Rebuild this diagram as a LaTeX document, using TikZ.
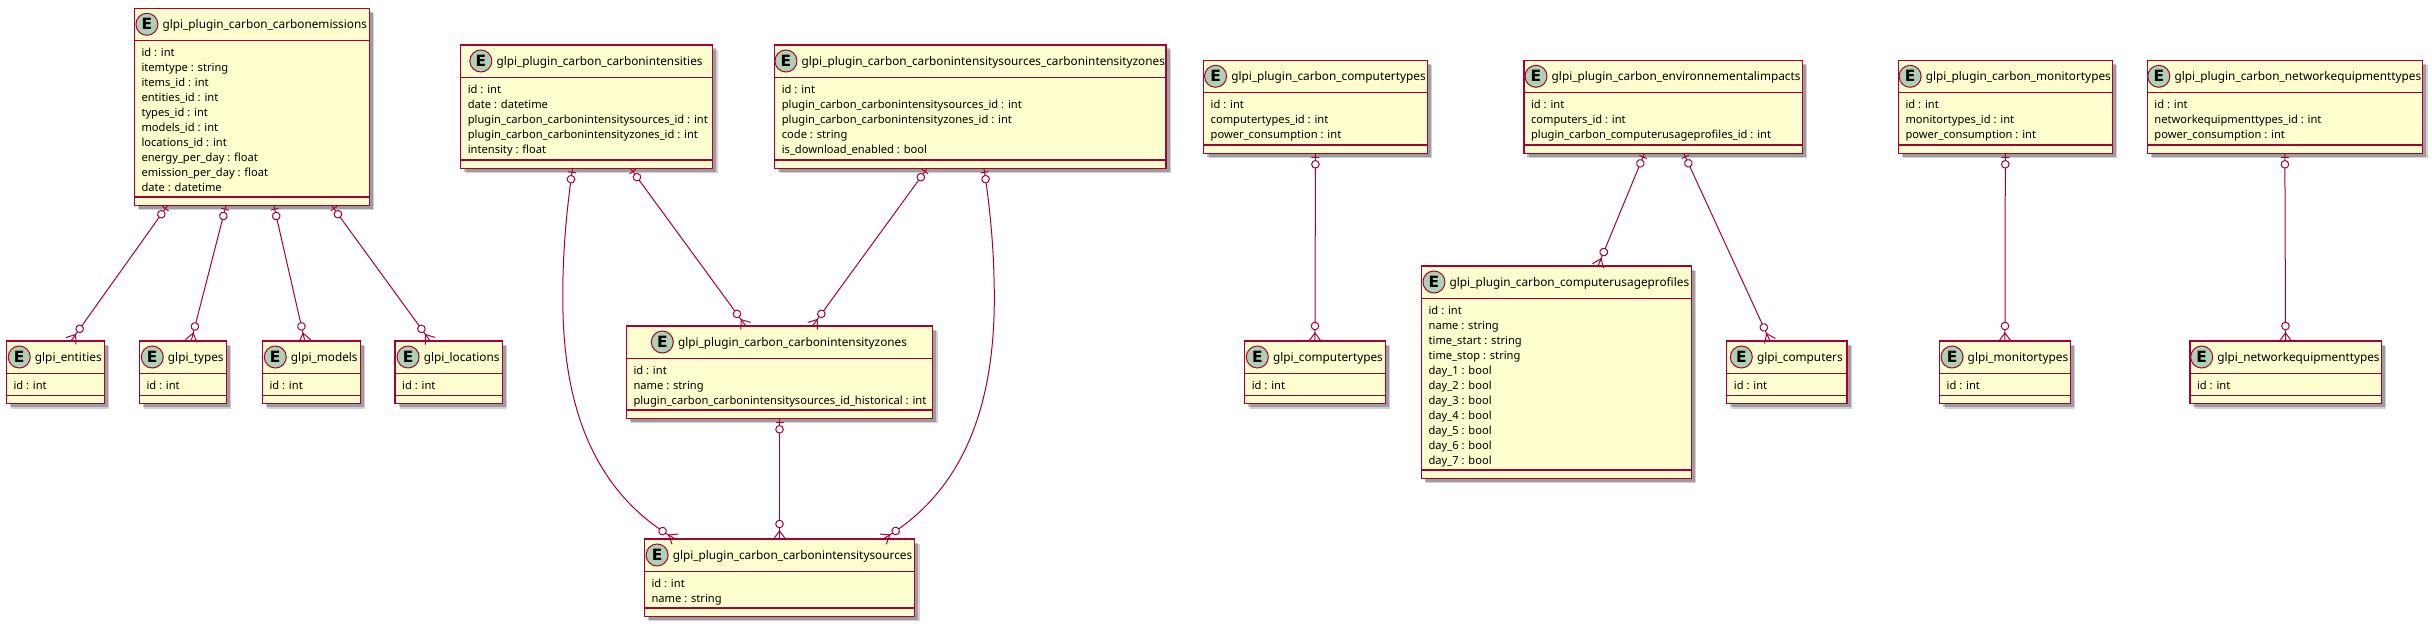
\documentclass[tikz,border=0pt]{standalone}
\usepackage{fontspec}
\setmainfont{Noto Sans}
\newfontfamily\markfont{DejaVu Sans}
\usetikzlibrary{positioning,shadows,decorations.markings}
\definecolor{boxred}{HTML}{A80036}
\definecolor{boxfill}{HTML}{FEFECE}
\definecolor{markfill}{HTML}{ADD1B2}
\tikzset{
  entitybox/.style={draw=boxred, fill=boxfill, line width=1.4pt, inner sep=0pt, outer sep=0pt,
    drop shadow={shadow xshift=5pt, shadow yshift=-5pt, fill=black, opacity=.18},
    drop shadow={shadow xshift=3.5pt, shadow yshift=-3.5pt, fill=black, opacity=.25}},
  entityline/.style={draw=boxred, line width=1.4pt},
  entitytitle/.style={inner sep=0pt, text height=11pt, text depth=2pt, font=\fontsize{11.8}{15}\selectfont},
  entitymark/.style={circle, draw=boxred, fill=markfill, line width=1pt, minimum size=22pt, inner sep=0pt,
    font=\fontsize{15.5}{17}\selectfont\markfont\bfseries},
  entityrows/.style={anchor=north west, inner sep=0pt, align=left, font=\fontsize{11.15}{15}\selectfont},
  relmark/.style={draw=boxred, line width=1pt},
  rel/.style={draw=boxred, line width=1pt, postaction={decorate}, decoration={markings,
    mark=at position 4pt with {\draw[relmark] (0,-4) -- (0,4);},
    mark=at position 11pt with {\draw[relmark, fill=white] (0,0) circle[radius=3.8];},
    mark=at position -15pt with {\draw[relmark, fill=white] (0,0) circle[radius=3.8];},
    mark=at position -8pt with {\draw[relmark] (8,-6) -- (0,0) -- (8,6);}}},
}
% name, left, top, right, bottom, title, rows
\newcommand{\entity}[7]{
  \pgfmathsetmacro{\entw}{#4-#2}
  \pgfmathsetmacro{\enth}{#5-#3}
  \node[entitybox, minimum width=\entw pt, minimum height=\enth pt] (#1) at ({(#2+#4)/2},{(#3+#5)/2}) {};
  \node[entitytitle] (#1title) at ({(#2+#4)/2+13},{#3+16}) {#6};
  \node[entitymark, left=4pt of #1title] (#1mark) {E};
  \draw[entityline] ([yshift=-32.3pt]#1.north west) -- ([yshift=-32.3pt]#1.north east);
  \draw[entityline] ([yshift=8.3pt]#1.south west) -- ([yshift=8.3pt]#1.south east);
  \node[entityrows] (#1rows) at ({#2+7},{#3+39.5}) {#7};
}
\begin{document}
\begin{tikzpicture}[x=1pt,y=-1pt]
            \useasboundingbox (0,0) rectangle (2432,626);
            % Carbon emissions
            \entity{emissions}{134.3}{8.3}{369.3}{205.3}{glpi\_plugin\_carbon\_carbonemissions}{id : int\\itemtype : string\\items\_id : int\\entities\_id : int\\types\_id : int\\models\_id : int\\locations\_id : int\\energy\_per\_day : float\\emission\_per\_day : float\\date : datetime}
            \entity{entities}{6.3}{341}{104.3}{403.5}{glpi\_entities}{id : int}
            \entity{types}{139.3}{341}{226.3}{403.5}{glpi\_types}{id : int}
            \entity{models}{262.3}{341}{360.3}{403.5}{glpi\_models}{id : int}
            \entity{locations}{395}{341}{502.3}{403.5}{glpi\_locations}{id : int}

            % Carbon intensities
            \entity{intensities}{460.6}{45}{712.5}{168.3}{glpi\_plugin\_carbon\_carbonintensities}{id : int\\date : datetime\\plugin\_carbon\_carbonintensitysources\_id : int\\plugin\_carbon\_carbonintensityzones\_id : int\\intensity : float}
            \entity{sourceszones}{774.6}{45}{1166}{168.3}{glpi\_plugin\_carbon\_carbonintensitysources\_carbonintensityzones}{id : int\\plugin\_carbon\_carbonintensitysources\_id : int\\plugin\_carbon\_carbonintensityzones\_id : int\\code : string\\is\_download\_enabled : bool}
            \entity{zones}{626.3}{326}{932.7}{418.3}{glpi\_plugin\_carbon\_carbonintensityzones}{id : int\\name : string\\plugin\_carbon\_carbonintensitysources\_id\_historical : int}
            \entity{sources}{644.3}{539}{914.7}{616.3}{glpi\_plugin\_carbon\_carbonintensitysources}{id : int\\name : string}

            % Computers
            \entity{plugincomputertypes}{1203.5}{60.3}{1427.4}{153.3}{glpi\_plugin\_carbon\_computertypes}{id : int\\computertypes\_id : int\\power\_consumption : int}
            \entity{computertypes}{1244.6}{341}{1385.3}{403.5}{glpi\_computertypes}{id : int}
            \entity{impacts}{1523.8}{60.3}{1802.4}{153.3}{glpi\_plugin\_carbon\_environnementalimpacts}{id : int\\computers\_id : int\\plugin\_carbon\_computerusageprofiles\_id : int}
            \entity{profiles}{1421.4}{266}{1691.4}{478.3}{glpi\_plugin\_carbon\_computerusageprofiles}{id : int\\name : string\\time\_start : string\\time\_stop : string\\day\_1 : bool\\day\_2 : bool\\day\_3 : bool\\day\_4 : bool\\day\_5 : bool\\day\_6 : bool\\day\_7 : bool}
            \entity{computers}{1726.7}{341}{1847}{403.5}{glpi\_computers}{id : int}

            % Monitors and network equipment
            \entity{pluginmonitortypes}{1898.3}{60.3}{2112.3}{153.3}{glpi\_plugin\_carbon\_monitortypes}{id : int\\monitortypes\_id : int\\power\_consumption : int}
            \entity{monitortypes}{1939.5}{341}{2070.4}{403.5}{glpi\_monitortypes}{id : int}
            \entity{pluginnetworktypes}{2147.2}{60.3}{2422.5}{153.3}{glpi\_plugin\_carbon\_networkequipmenttypes}{id : int\\networkequipmenttypes\_id : int\\power\_consumption : int}
            \entity{networktypes}{2189.8}{341}{2381.2}{403.5}{glpi\_networkequipmenttypes}{id : int}

            % Relations
            \draw[rel] ([xshift=33.4pt]emissions.south west) -- ([xshift=64.7pt]entities.north west);
            \draw[rel] ([xshift=91.8pt]emissions.south west) -- ([xshift=51.9pt]types.north west);
            \draw[rel] ([xshift=139.5pt]emissions.south west) -- ([xshift=42.5pt]models.north west);
            \draw[rel] ([xshift=197.2pt]emissions.south west) -- ([xshift=35.2pt]locations.north west);
            \draw[rel] ([xshift=111.9pt]intensities.south west) .. controls (566,215) and (562.5,255) .. (562.8,300) .. controls (563,400) and (590,490) .. ([xshift=31pt]sources.north west);
            \draw[rel] ([xshift=169.9pt]intensities.south west) -- ([xshift=119.5pt]zones.north west);
            \draw[rel] ([xshift=152.7pt]sourceszones.south west) -- ([xshift=186.2pt]zones.north west);
            \draw[rel] ([xshift=209.4pt]sourceszones.south west) .. controls (991,215) and (994.3,255) .. (994.3,300) .. controls (994,400) and (967,490) .. ([xshift=238.7pt]sources.north west);
            \draw[rel] (zones.south) -- (sources.north);
            \draw[rel] (plugincomputertypes.south) -- (computertypes.north);
            \draw[rel] ([xshift=120.7pt]impacts.south west) -- ([xshift=176.6pt]profiles.north west);
            \draw[rel] ([xshift=159.9pt]impacts.south west) -- ([xshift=43.3pt]computers.north west);
            \draw[rel] (pluginmonitortypes.south) -- (monitortypes.north);
            \draw[rel] (pluginnetworktypes.south) -- (networktypes.north);
\end{tikzpicture}
\end{document}
